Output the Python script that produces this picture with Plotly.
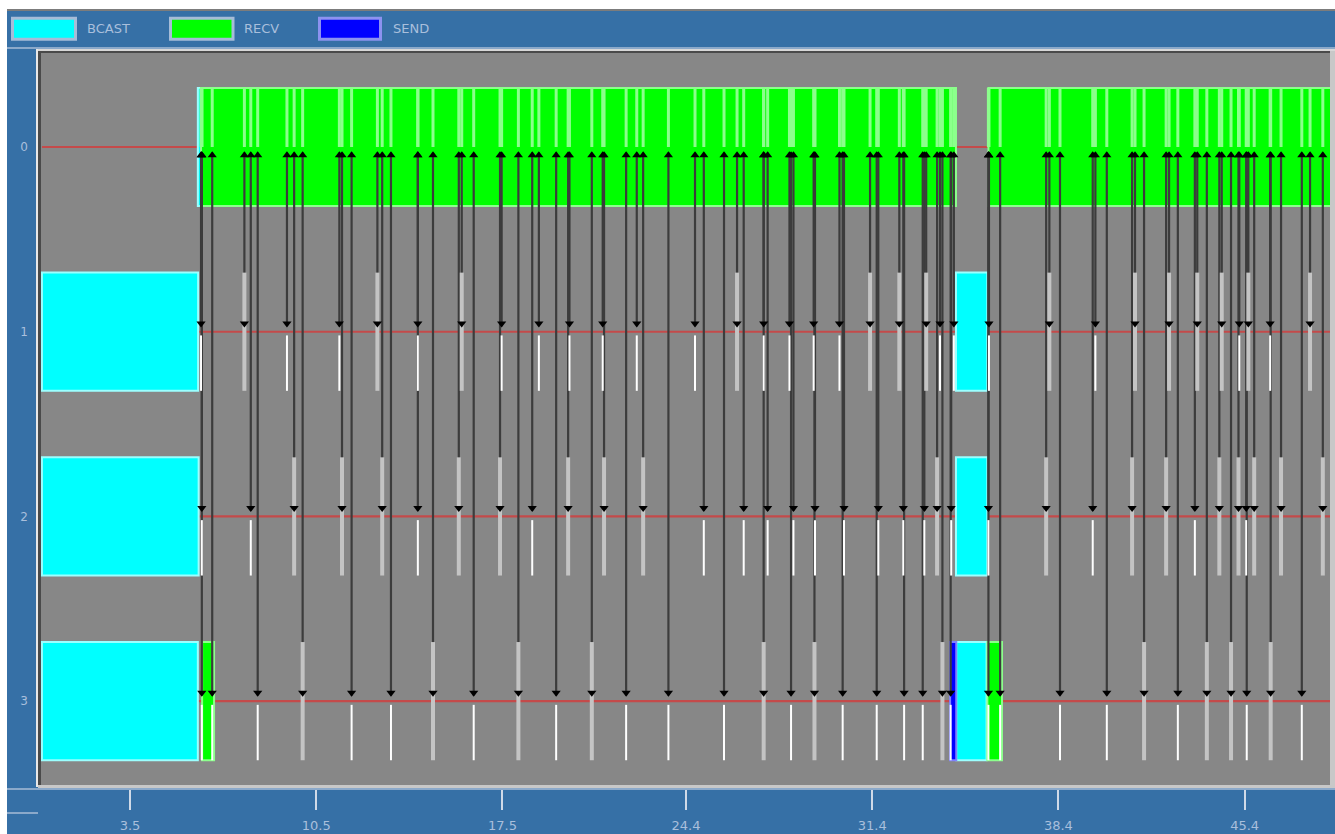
import plotly.graph_objects as go

# ---------------- data ----------------
RANKS = [0, 1, 2, 3]
RANK_LABELS = ["0", "1", "2", "3"]
X_TICK_VALUES = [3.5, 10.5, 17.5, 24.4, 31.4, 38.4, 45.4]
X_TICK_LABELS = ["3.5", "10.5", "17.5", "24.4", "31.4", "38.4", "45.4"]
TIME_START = 0.19
TIME_END = 48.75

# states (rank, start, end)
BCAST_RANK = [0, 1, 2, 3, 1, 2, 3]
BCAST_START = [6.05, 0.19, 0.19, 0.19, 34.55, 34.55, 34.56]
BCAST_END = [6.17, 6.06, 6.08, 6.05, 35.73, 35.73, 35.70]
RECV_RANK = [0, 0, 3, 3]
RECV_START = [6.17, 35.77, 6.21, 35.73]
RECV_END = [34.55, 48.75, 6.66, 36.28]
SEND_RANK = [3]
SEND_START = [34.33]
SEND_END = [34.56]

# message exchanges between rank 0 and each worker (time of exchange)
RANK1_MSG_TIMES = [6.17, 7.80, 9.40, 11.37, 12.80, 14.32, 15.97, 17.47, 18.87, 20.02,
                   21.27, 22.55, 24.74, 26.32, 27.32, 28.29, 29.20, 30.17, 31.32, 32.42,
                   33.43, 33.95, 34.47, 35.79, 38.06, 39.79, 41.28, 42.56, 43.62, 44.54,
                   45.20, 45.54, 46.36, 47.86]
RANK1_SEND_DUR = [0.04, 0.13, 0.04, 0.04, 0.13, 0.04, 0.13, 0.04, 0.04, 0.04,
                  0.04, 0.04, 0.04, 0.13, 0.04, 0.04, 0.04, 0.04, 0.13, 0.13,
                  0.13, 0.04, 0.04, 0.04, 0.13, 0.04, 0.13, 0.13, 0.13, 0.13,
                  0.04, 0.13, 0.04, 0.13]
RANK2_MSG_TIMES = [6.20, 8.04, 9.67, 11.47, 12.98, 14.32, 15.86, 17.41, 18.62, 19.97,
                   21.32, 22.79, 25.07, 26.57, 27.47, 28.44, 29.25, 30.34, 31.63, 32.57,
                   33.36, 33.84, 34.37, 35.77, 37.94, 39.69, 41.17, 42.45, 43.53, 44.45,
                   45.17, 45.46, 45.76, 46.77, 48.34]
RANK2_SEND_DUR = [0.04, 0.04, 0.13, 0.13, 0.13, 0.04, 0.13, 0.13, 0.04, 0.13,
                  0.13, 0.13, 0.04, 0.04, 0.04, 0.04, 0.04, 0.04, 0.04, 0.04,
                  0.04, 0.13, 0.04, 0.04, 0.13, 0.04, 0.13, 0.13, 0.04, 0.13,
                  0.13, 0.04, 0.13, 0.13, 0.13]
RANK3_MSG_TIMES = [6.20, 6.59, 8.30, 9.99, 11.83, 13.31, 14.89, 16.42, 18.10, 19.52,
                   20.86, 22.15, 23.74, 25.83, 27.32, 28.35, 29.23, 30.29, 31.57, 32.60,
                   33.30, 34.04, 34.35, 35.77, 36.21, 38.46, 40.22, 41.62, 42.89, 43.98,
                   44.89, 45.48, 46.38, 47.55]
RANK3_SEND_DUR = [0.04, 0.04, 0.04, 0.13, 0.04, 0.04, 0.13, 0.04, 0.13, 0.04,
                  0.13, 0.04, 0.04, 0.04, 0.13, 0.04, 0.13, 0.04, 0.04, 0.04,
                  0.04, 0.13, 0.04, 0.04, 0.04, 0.04, 0.04, 0.13, 0.04, 0.13,
                  0.13, 0.04, 0.13, 0.04]

WORKER_MSGS = {1: (RANK1_MSG_TIMES, RANK1_SEND_DUR),
               2: (RANK2_MSG_TIMES, RANK2_SEND_DUR),
               3: (RANK3_MSG_TIMES, RANK3_SEND_DUR)}

LEGEND_NAMES = ["BCAST", "RECV", "SEND"]

# ---------------- style ----------------
W, H = 1335, 834
ML, MR, MT, MB = 41, 5, 53, 49
PW, PH = W - ML - MR, H - MT - MB
PX_PER_RANK = 184.7
BLUE = "#3670a6"
LIGHT_BLUE = "#8ba9ca"
TEXT = "#a9bfdc"
BG = "#878787"
BOX_H = 0.64
HALF = BOX_H / 2

STATE_COLORS = {"BCAST": ("#00ffff", "#9bffff", "#a6bcd8"),
                "RECV": ("#00ff00", "#8cff8c", "#a6bcd8"),
                "SEND": ("#0000ff", "#8080ff", "#8c92f0")}

# legend layout: swatch (outer frame) left/right and label position, in pixels
LEG_SWATCH = {"BCAST": (12.5, 75.5), "RECV": (170.5, 233), "SEND": (319.5, 380.5)}
LEG_TEXT_X = {"BCAST": 87, "RECV": 244, "SEND": 393}
LEG_ITEM_W = 67

fig = go.Figure()

# timelines (drawn as thin bars so that states cover them)
fig.add_trace(go.Bar(orientation="h", y=RANKS, base=[TIME_START] * len(RANKS),
                     x=[TIME_END - TIME_START] * len(RANKS), width=2.2 / PX_PER_RANK,
                     marker=dict(color="#c44a4a", line=dict(width=0)),
                     hoverinfo="skip", showlegend=False))

# states
for name, ranks, starts, ends in [("BCAST", BCAST_RANK, BCAST_START, BCAST_END),
                                  ("RECV", RECV_RANK, RECV_START, RECV_END),
                                  ("SEND", SEND_RANK, SEND_START, SEND_END)]:
    fill, edge, _ = STATE_COLORS[name]
    fig.add_trace(go.Bar(orientation="h", y=ranks, base=starts,
                         x=[e - s for s, e in zip(starts, ends)], width=BOX_H,
                         marker=dict(color=fill, line=dict(color=edge, width=2)),
                         name=name, legendgroup=name, showlegend=False))

# gaps in rank 0 RECV (state boundaries at each message)
all_times = sorted(t for k in WORKER_MSGS for t in WORKER_MSGS[k][0])
gx, gy = [], []
for t in all_times:
    gx += [t, t, None]
    gy += [-HALF, 0, None]
fig.add_trace(go.Scatter(x=gx, y=gy, mode="lines", hoverinfo="skip",
                         line=dict(color="#8cff8c", width=3), showlegend=False))

# message arrows
ax, ay = [], []
for k, (times, _) in WORKER_MSGS.items():
    for t in times:
        ax += [t, t, None]
        ay += [0.03, k - 0.03, None]
fig.add_trace(go.Scatter(x=ax, y=ay, mode="lines", hoverinfo="skip",
                         line=dict(color="#3c3c3c", width=2.2), showlegend=False))

# short SEND states at workers
sx_w, sy_w, sx_g, sy_g = [], [], [], []
for k, (times, durs) in WORKER_MSGS.items():
    for t, d in zip(times, durs):
        if d > 0.08:
            sx_g += [t, t, None]
            sy_g += [k - HALF, k + HALF, None]
        else:
            sx_w += [t, t, None]
            sy_w += [k + 0.02, k + HALF, None]
fig.add_trace(go.Scatter(x=sx_g, y=sy_g, mode="lines", hoverinfo="skip",
                         line=dict(color="#c4c4c4", width=4), showlegend=False))
fig.add_trace(go.Scatter(x=sx_w, y=sy_w, mode="lines", hoverinfo="skip",
                         line=dict(color="#ffffff", width=2), showlegend=False))

# arrowheads
up_x, dn_x, dn_y = [], [], []
for k, (times, _) in WORKER_MSGS.items():
    for t in times:
        up_x.append(t)
        dn_x.append(t)
        dn_y.append(k - 0.045)
fig.add_trace(go.Scatter(x=up_x, y=[0.045] * len(up_x), mode="markers", hoverinfo="skip",
                         marker=dict(symbol="triangle-up", size=8, color="#000000"),
                         showlegend=False))
fig.add_trace(go.Scatter(x=dn_x, y=dn_y, mode="markers", hoverinfo="skip",
                         marker=dict(symbol="triangle-down", size=8, color="#000000"),
                         showlegend=False))


# ---------------- chrome ----------------
def px(xp):
    return (xp - ML) / PW


def py(yp):
    return 1 - (yp - MT) / PH


def rect(x0, y0, x1, y1, color, line_color=None, lw=0):
    return dict(type="rect", xref="paper", yref="paper", x0=px(x0), x1=px(x1),
                y0=py(y1), y1=py(y0), fillcolor=color,
                line=dict(width=lw, color=line_color or color), layer="above")


# legend entries (one small legend per state so each sits where the original does)
legend_layouts = {}
for i, name in enumerate(LEGEND_NAMES):
    key = "legend" if i == 0 else f"legend{i + 1}"
    fill = STATE_COLORS[name][0]
    fig.add_trace(go.Scatter(x=[None], y=[None], mode="lines", name=name,
                             legend=key, legendgroup=name,
                             line=dict(color=fill, width=0)))
    legend_layouts[key] = dict(
        x=px(LEG_TEXT_X[name] - LEG_ITEM_W - 10), y=py(27.5),
        xanchor="left", yanchor="middle", orientation="h",
        bgcolor="rgba(0,0,0,0)", itemwidth=LEG_ITEM_W,
        font=dict(family="DejaVu Sans", size=13, color=TEXT))

shapes = [
    rect(0, 0, W, 9, "#ffffff"),
    rect(0, 9, W, 11, "#7c7c7c"),
    rect(0, 0, 7, H, "#ffffff"),
    rect(7, 47, W, 49, LIGHT_BLUE),
    rect(36, 49, W, 51, "#d8d8d8"),
    rect(36, 49, 38, 787, "#e8e8e8"),
    rect(38, 51, W, 53, "#4a4a4a"),
    rect(38, 51, 41, 785, "#4a4a4a"),
    rect(1330, 51, W, 787, "#c8c8c8"),
    rect(38, 785, W, 788, "#c8c8c8"),
    rect(7, 788, W, 790, LIGHT_BLUE),
    rect(7, 812, 38, 814, LIGHT_BLUE),
]
# legend swatches
for name in LEGEND_NAMES:
    fill, _, frame = STATE_COLORS[name]
    x0, x1 = LEG_SWATCH[name]
    shapes.append(rect(x0, 18.2, x1, 39.3, fill, frame, 3))

fig.update_layout(
    width=W, height=H,
    margin=dict(l=ML, r=MR, t=MT, b=MB, autoexpand=False),
    paper_bgcolor=BLUE, plot_bgcolor=BG,
    barmode="overlay",
    shapes=shapes,
    showlegend=True,
    xaxis=dict(range=[0.154, 48.61], showgrid=False, zeroline=False,
               tickvals=X_TICK_VALUES, ticktext=X_TICK_LABELS,
               ticks="outside", ticklen=24, tickwidth=2, tickcolor="#d0dae8",
               ticklabelstandoff=4,
               tickfont=dict(family="DejaVu Sans", size=13, color=TEXT)),
    yaxis=dict(range=[3.454, -0.509], showgrid=False, zeroline=False,
               tickvals=RANKS, ticktext=RANK_LABELS, ticks="",
               ticklabelstandoff=12,
               tickfont=dict(family="DejaVu Sans", size=12, color=TEXT)),
    **legend_layouts,
)

fig.write_html("out.html")
